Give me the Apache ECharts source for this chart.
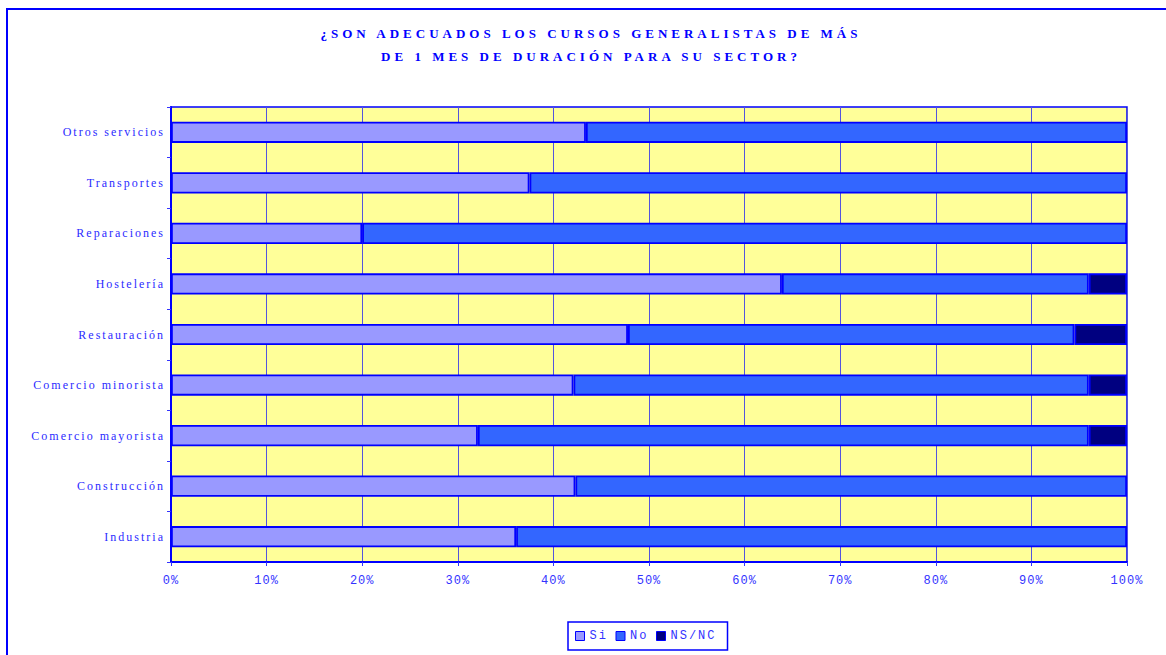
<!DOCTYPE html>
<html>
<head>
<meta charset="utf-8">
<script src="https://cdn.jsdelivr.net/npm/echarts@6/dist/echarts.min.js"></script>
<style>
html,body{margin:0;padding:0;background:#fff;}
#c{width:1166px;height:655px;}
#c svg text[style*="bold"]{letter-spacing:4px;}
#c svg text[style*="Liberation Serif"]:not([style*="bold"]){letter-spacing:2px;}
#c svg text[style*="monospace"]{letter-spacing:2px;}
#c svg text[style*="Courier"]{letter-spacing:1px;}
</style>
</head>
<body>
<div id="c"></div>
<script>
// Categories listed bottom to top
const categories = ['Industria','Construcción','Comercio mayorista','Comercio minorista','Restauración','Hostelería','Reparaciones','Transportes','Otros servicios'];
const siValues   = [36.1, 42.3, 32.1, 42.1, 47.8, 63.9, 20.0, 37.5, 43.4];
const noValues   = [63.9, 57.7, 63.9, 53.9, 46.7, 32.1, 80.0, 62.5, 56.6];
const nsncValues = [null, null, 4.0, 4.0, 5.5, 4.0, null, null, null];
const seriesNames = ['Si','No','NS/NC'];
const xTicks = [0,10,20,30,40,50,60,70,80,90,100];
const titleLines = ['¿SON ADECUADOS LOS CURSOS GENERALISTAS DE MÁS','DE 1 MES DE DURACIÓN PARA SU SECTOR?'];

const chart = echarts.init(document.getElementById('c'), null, {renderer:'svg'});
const border = {borderColor:'#0000ff', borderWidth:1.8};
chart.setOption({
  animation:false,
  backgroundColor:'#ffffff',
  graphic:[
    {type:'rect', z:-10, silent:true, shape:{x:7, y:9, width:1180, height:680},
     style:{fill:'none', stroke:'#0000ff', lineWidth:2}},
    {type:'text', x:591, y:21.5, z:10,
     style:{text:titleLines.join('\n'), textAlign:'center', textVerticalAlign:'top',
            font:'bold 13px "Liberation Serif"', fill:'#0000ff', lineHeight:23}}
  ],
  grid:{left:171, right:39, top:107, bottom:93, containLabel:false, show:true,
        backgroundColor:'#ffff99', borderColor:'#0000ff', borderWidth:1.5},
  legend:{
    data:seriesNames, left:568, top:622, orient:'horizontal',
    padding:[8,21,8,7], itemGap:11.6, itemWidth:9, itemHeight:9, icon:'rect',
    borderColor:'#0000ff', borderWidth:1.5, backgroundColor:'#ffffff',
    itemStyle:{borderColor:'#0000ff', borderWidth:1},
    textStyle:{fontFamily:'"Liberation Mono", monospace', fontSize:12, color:'#3333ff'}
  },
  xAxis:{
    type:'value', min:xTicks[0], max:xTicks[xTicks.length-1], interval:10,
    axisLine:{show:true, lineStyle:{color:'#0000ff', width:2}},
    axisTick:{show:true, length:4, lineStyle:{color:'#3333ff', width:1}},
    axisLabel:{formatter:'{value}%', margin:13, fontFamily:'"Liberation Mono", Courier', fontSize:12, color:'#3333ff'},
    splitLine:{show:true, lineStyle:{color:'#5555dd', width:1}}
  },
  yAxis:{
    type:'category', data:categories,
    axisLine:{show:true, lineStyle:{color:'#0000ff', width:2}},
    axisTick:{show:true, length:4, lineStyle:{color:'#3333ff', width:1}},
    axisLabel:{margin:6, fontFamily:'"Liberation Serif"', fontSize:12, color:'#2b2bff'},
    splitLine:{show:false}
  },
  series:[
    {name:seriesNames[0], type:'bar', stack:'t', barWidth:'42%', data:siValues,
     itemStyle:Object.assign({color:'#9999ff'}, border)},
    {name:seriesNames[1], type:'bar', stack:'t', barWidth:'42%', data:noValues,
     itemStyle:Object.assign({color:'#3366ff'}, border)},
    {name:seriesNames[2], type:'bar', stack:'t', barWidth:'42%', data:nsncValues,
     itemStyle:Object.assign({color:'#000080'}, border)}
  ]
});
</script>
</body>
</html>
